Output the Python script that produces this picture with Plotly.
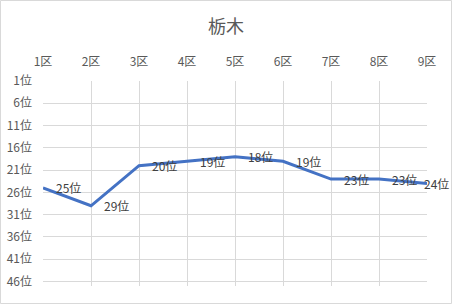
import plotly.graph_objects as go

# Race sections and Tochigi's rank in each one
sections = ["1区", "2区", "3区", "4区", "5区", "6区", "7区", "8区", "9区"]
ranks = [25, 29, 20, 19, 18, 19, 23, 23, 24]
rank_ticks = [1, 6, 11, 16, 21, 26, 31, 36, 41, 46]
rank_tick_labels = [f"{r}位" for r in rank_ticks]

W, H = 452, 304
ML, MR, MT, MB = 43, 25, 81, 18
FONT = "Noto Sans CJK JP"

fig = go.Figure()
fig.add_trace(go.Scatter(
    x=sections, y=ranks, mode="lines",
    line=dict(color="#4472C4", width=3),
    hoverinfo="skip", showlegend=False,
))

# Rank labels to the right of each point (last one pulled inside the frame)
for i, (s, r) in enumerate(zip(sections, ranks)):
    last = i == len(sections) - 1
    fig.add_annotation(
        x=s, y=r, text=f"{r}位", showarrow=False,
        xanchor="left", yanchor="middle",
        xshift=-5 if last else 11,
        font=dict(family=FONT, size=12, color="#404040"),
    )

pw = W - ML - MR
ph = H - MT - MB
fig.add_shape(
    type="rect", xref="paper", yref="paper",
    x0=-(ML - 0.5) / pw, x1=(pw + MR - 0.5) / pw,
    y0=-(MB - 0.5) / ph, y1=(ph + MT - 0.5) / ph,
    line=dict(color="#d9d9d9", width=1), layer="below",
)

fig.update_layout(
    width=W, height=H,
    margin=dict(l=ML, r=MR, t=MT, b=MB, autoexpand=False),
    paper_bgcolor="white", plot_bgcolor="white",
    font=dict(family=FONT, size=12, color="#595959"),
    title=dict(text="栃木", x=0.5, xref="container", xanchor="center",
               y=1 - 27 / H, yref="container", yanchor="middle",
               font=dict(family=FONT, size=18, color="#595959")),
    xaxis=dict(
        type="category", side="top", range=[0, 8],
        showgrid=True, gridcolor="#d9d9d9", gridwidth=1,
        showline=False, zeroline=False, ticks="",
        ticklabelstandoff=12, automargin=False,
        tickfont=dict(family=FONT, size=12, color="#595959"),
    ),
    yaxis=dict(
        range=[47, 1], tickvals=rank_ticks, ticktext=rank_tick_labels,
        showgrid=True, gridcolor="#d9d9d9", gridwidth=1,
        showline=False, zeroline=False, ticks="",
        ticklabelstandoff=10, automargin=False,
        tickfont=dict(family=FONT, size=12, color="#595959"),
    ),
)

fig.write_html("out.html")
